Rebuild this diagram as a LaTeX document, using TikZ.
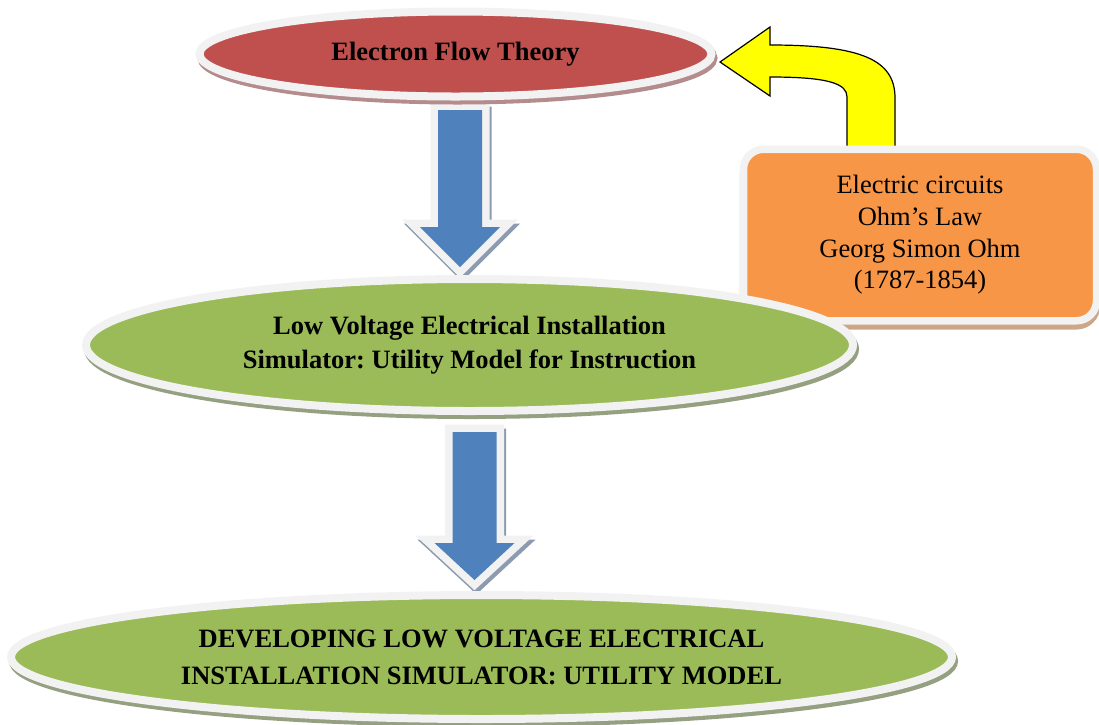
\documentclass[tikz,border=0pt]{standalone}
\usepackage{fontspec}
\setmainfont{Liberation Serif}
\frenchspacing
\usetikzlibrary{shapes.geometric}
\definecolor{rimc}{HTML}{F2F2F2}
\definecolor{redc}{HTML}{C0504D}
\definecolor{greenc}{HTML}{9BBB59}
\definecolor{bluec}{HTML}{4F81BD}
\definecolor{orangec}{HTML}{F79646}
\definecolor{redsh}{RGB}{180,140,142}
\definecolor{greensh}{RGB}{148,160,128}
\definecolor{orangesh}{RGB}{205,165,135}
\definecolor{bluesh}{RGB}{140,155,175}
\definecolor{yel}{HTML}{FFFF00}
\tikzset{
  ell/.style={ellipse, inner sep=0pt, line width=8pt, draw=rimc, align=center,
    font=\fontsize{26.5}{34}\selectfont\bfseries},
  boxst/.style={rectangle, rounded corners=20pt, inner sep=0pt, line width=7.5pt,
    draw=rimc, align=center, font=\fontsize{26.5}{31.7}\selectfont},
  arrowrim/.style={fill=bluec, preaction={draw=rimc, line width=15pt, line join=miter}},
  arrowsh/.style={fill=bluesh, draw=bluesh, line width=15pt, line join=miter},
  bentarrow/.style={fill=yel, draw=black, line width=1.2pt, line join=miter}
}
\newcommand\dnarrow[3]{%
  \path[shift={(#1)}, xshift=2pt, yshift=-4pt, arrowsh]
    (-22,0) -- (22,0) -- (22,#2) -- (40,#2) -- (0,{#2+#3}) -- (-40,#2) -- (-22,#2) -- cycle;
  \path[shift={(#1)}, arrowrim]
    (-22,0) -- (22,0) -- (22,#2) -- (40,#2) -- (0,{#2+#3}) -- (-40,#2) -- (-22,#2) -- cycle;
}
\begin{document}
\begin{tikzpicture}[x=1pt, y=-1pt]
\useasboundingbox (0,0) rectangle (1099,724);

% yellow bent arrow (from the Ohm box back to the top ellipse)
\coordinate (ytip) at (720,62);
\draw[bentarrow] (ytip) -- (770,27) -- (770,45)
   .. controls (862,45) and (895,60) .. (895,98) -- (895,150)
   -- (847,150) -- (847,97)
   .. controls (847,84) and (830,77) .. (770,77) -- (770,96) -- cycle;

% Ohm box
\node[boxst, fill=orangesh, draw=orangesh, minimum width=353pt, minimum height=171.5pt] (ohmsh) at (920,240) {};
\node[boxst, fill=orangec, minimum width=353pt, minimum height=171.5pt] (ohm) at (920,235)
  {Electric circuits\\Ohm’s Law\\Georg Simon Ohm\\(1787-1854)};

% blue block arrows
\coordinate (a1) at (460,110);
\coordinate (a2) at (474.5,432);
\dnarrow{a1}{117}{40}
\dnarrow{a2}{111}{37}

% top ellipse
\node[ell, fill=redsh, draw=redsh, minimum width=512pt, minimum height=85pt] (efsh) at (457.5,58) {};
\node[ell, fill=redc, minimum width=512pt, minimum height=85pt] (ef) at (455.5,54) {Electron Flow Theory};

% middle ellipse
\node[ell, fill=greensh, draw=greensh, minimum width=767pt, minimum height=132pt] (lvsh) at (471.5,349) {};
\node[ell, fill=greenc, minimum width=767pt, minimum height=132pt] (lv) at (469.5,345)
  {Low Voltage Electrical Installation\\Simulator: Utility Model for Instruction};

% bottom ellipse
\node[ell, fill=greensh, draw=greensh, minimum width=941pt, minimum height=124pt] (devsh) at (483.5,661) {};
\node[ell, fill=greenc, minimum width=941pt, minimum height=124pt,
  font=\fontsize{26.5}{37}\selectfont\bfseries] (dev) at (481.5,657)
  {DEVELOPING LOW VOLTAGE ELECTRICAL\\INSTALLATION SIMULATOR: UTILITY MODEL};
\end{tikzpicture}
\end{document}
